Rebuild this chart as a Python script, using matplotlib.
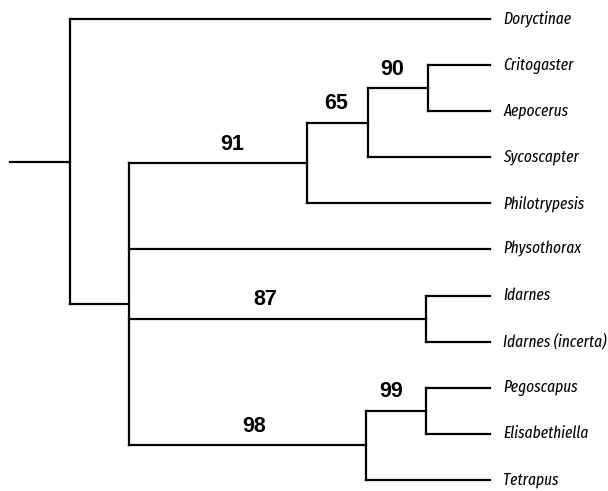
import matplotlib
matplotlib.use("Agg")
import matplotlib.pyplot as plt

# tips, top to bottom
tip_names = ["Doryctinae", "Critogaster", "Aepocerus", "Sycoscapter", "Philotrypesis",
             "Physothorax", "Idarnes", "Idarnes (incerta)", "Pegoscapus",
             "Elisabethiella", "Tetrapus"]
tip_depth = 490

# internal nodes: name, depth, children, bootstrap support
node_names = ["n90", "n65", "n91", "n87", "n99", "n98", "ingroup", "root"]
node_depths = [428, 368, 307, 426, 426, 366, 129, 70]
node_children = [["Critogaster", "Aepocerus"],
                 ["n90", "Sycoscapter"],
                 ["n65", "Philotrypesis"],
                 ["Idarnes", "Idarnes (incerta)"],
                 ["Pegoscapus", "Elisabethiella"],
                 ["n99", "Tetrapus"],
                 ["n91", "Physothorax", "n87", "n98"],
                 ["Doryctinae", "ingroup"]]
node_support = ["90", "65", "91", "87", "99", "98", "", ""]
root_stem = 10

# where along its branch each support value sits (0 = parent, 1 = child)
label_frac = {"n90": 0.4, "n65": 0.48, "n91": 0.58, "n87": 0.46, "n99": 0.42, "n98": 0.53}

LW = 1.6
TIP_FONT = ["Fira Sans Extra Condensed", "Roboto Condensed", "DejaVu Sans"]
NUM_FONT = ["Liberation Sans", "DejaVu Sans"]

fig = plt.figure(figsize=(6.08, 4.91), dpi=100)
ax = fig.add_axes([0, 0, 1, 1])

ypos = {n: i for i, n in enumerate(tip_names)}
xpos = {n: tip_depth for n in tip_names}
for name, d in zip(node_names, node_depths):
    xpos[name] = d
children = dict(zip(node_names, node_children))
support = dict(zip(node_names, node_support))


def place(name):
    if name in ypos:
        return ypos[name]
    ys = [place(c) for c in children[name]]
    ypos[name] = (min(ys) + max(ys)) / 2
    return ypos[name]


place("root")

for name in node_names:
    kids = children[name]
    ys = [ypos[c] for c in kids]
    ax.plot([xpos[name], xpos[name]], [min(ys), max(ys)], color="black", lw=LW,
            solid_capstyle="projecting")
    for c in kids:
        ax.plot([xpos[name], xpos[c]], [ypos[c], ypos[c]], color="black", lw=LW,
                solid_capstyle="projecting")
        if support.get(c):
            f = label_frac[c]
            ax.annotate(support[c], (xpos[name] + f * (xpos[c] - xpos[name]), ypos[c]),
                        xytext=(0, 6), textcoords="offset points",
                        ha="center", va="bottom", fontsize=15.5, fontweight="bold",
                        family=NUM_FONT)

ax.plot([root_stem, xpos["root"]], [ypos["root"], ypos["root"]], color="black", lw=LW)

for n in tip_names:
    ax.text(tip_depth + 13, ypos[n], n, ha="left", va="center", fontsize=12,
            style="italic", family=TIP_FONT)

ax.set_xlim(0, 608)
ax.set_ylim(10.24, -0.41)
ax.axis("off")

fig.savefig("out.png", dpi=100)
